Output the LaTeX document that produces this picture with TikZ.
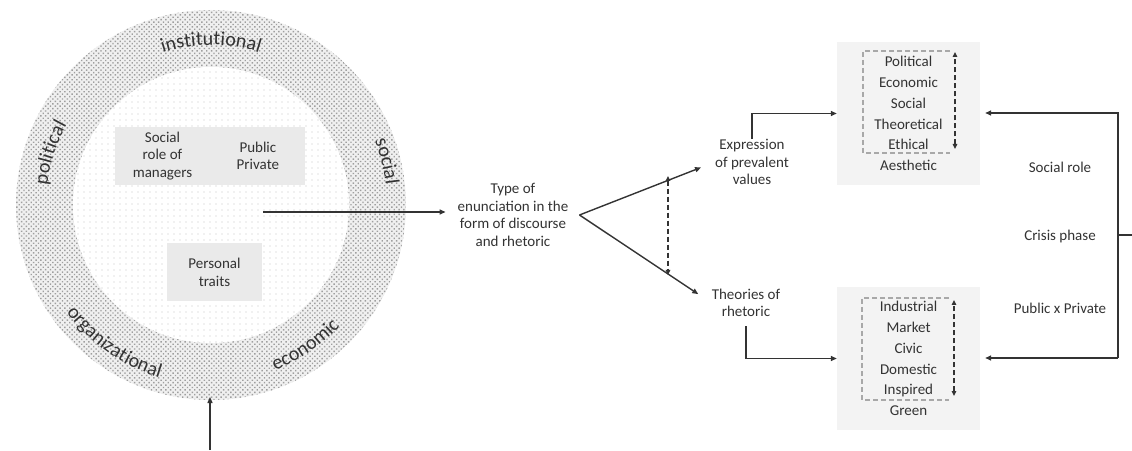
\documentclass[tikz,border=0pt]{standalone}
\usepackage{fontspec}
\setmainfont{Carlito}
\usetikzlibrary{positioning,arrows.meta,patterns.meta,decorations.text}
\definecolor{ink}{HTML}{333333}
\definecolor{shade}{HTML}{EAEAEA}
\definecolor{panel}{HTML}{F3F3F3}
\definecolor{dashgray}{HTML}{A8A8A8}
\newcommand{\ringfont}{\fontsize{20}{24}\selectfont\color{ink}}

\begin{document}
\begin{tikzpicture}[x=1pt,y=1pt,
  txt/.style={align=center, text=ink, inner sep=0pt, font=\fontsize{15}{17.5}\selectfont},
  graybox/.style={txt, fill=shade, minimum width=95pt, minimum height=58pt},
  listbox/.style={align=center, text=ink, fill=panel, inner sep=0pt, minimum width=143pt, minimum height=143pt, font=\fontsize{15}{20.8}\selectfont},
  line/.style={draw=ink, line width=1.4pt},
  arr/.style={line, -{Triangle[length=6pt,width=5pt]}},
  darr/.style={line, line width=1.6pt, dash pattern=on 5pt off 3pt, {Triangle[length=5pt,width=4.5pt]}-{Triangle[length=5pt,width=4.5pt]}},
  dashbox/.style={draw=dashgray, line width=1.2pt, dash pattern=on 5pt off 3pt}]
\useasboundingbox (0,0) rectangle (1132,450);

% rings
\coordinate (hub) at (211,245);
\fill[gray!12] (hub) circle[radius=195];
\fill[pattern={Dots[distance=3.4pt,radius=1pt,angle=45]}, pattern color=gray!75] (hub) circle[radius=195];
\fill[white] (hub) circle[radius=138];
\fill[pattern={Dots[distance=6pt,radius=0.7pt]}, pattern color=gray!45] (hub) circle[radius=138];
\path[decorate, decoration={text along path, text align=center, text={|\ringfont|institutional}}]
  ([shift={(130:160)}]hub) arc[start angle=130, end angle=50, radius=160];
\path[decorate, decoration={text along path, text align=center, text={|\ringfont|political}}]
  ([shift={(200:165)}]hub) arc[start angle=200, end angle=124, radius=165];
\path[decorate, decoration={text along path, text align=center, text={|\ringfont|social}}]
  ([shift={(50:176)}]hub) arc[start angle=50, end angle=-22, radius=176];
\path[decorate, decoration={text along path, text align=center, text={|\ringfont|organizational}}]
  ([shift={(195:180)}]hub) arc[start angle=195, end angle=275, radius=180];
\path[decorate, decoration={text along path, text align=center, text={|\ringfont|economic}}]
  ([shift={(268:177)}]hub) arc[start angle=268, end angle=340, radius=177];

% inner boxes
\node[graybox] (role) at (162.5,294) {Social\\role of\\managers};
\node[graybox, right=0pt of role] (sector) {Public\\Private};
\node[graybox] (traits) at (214.5,177.5) {Personal\\traits};

% middle
\node[txt] (type) at (513,235) {Type of\\enunciation in the\\form of discourse\\and rhetoric};
\coordinate (core) at (263,238);
\coordinate (below) at (210,0);
\draw[arr, shorten >=12pt] (core) -- (core -| type.west);
\draw[arr] (below) -- ++(0,53);

\node[txt] (expr) at (752,288) {Expression\\of prevalent\\values};
\node[txt] (theo) at (746,147) {Theories of\\rhetoric};
\coordinate (fork) at ([xshift=11pt]type.east);
\coordinate (hi) at (668,274);
\coordinate (lo) at (668,175);
\draw[arr, shorten >=15pt] (fork) -- (expr.west);
\draw[arr, shorten >=16pt] (fork) -- (theo.west);
\draw[darr] (hi) -- (lo);

% lists
\node[listbox] (vals) at (908.5,336.5) {Political\\Economic\\Social\\Theoretical\\Ethical\\Aesthetic};
\node[listbox] (types) at (908.5,91.5) {Industrial\\Market\\Civic\\Domestic\\Inspired\\Green};
\draw[dashbox] (950,399) -| (863,297) -- (950,297);
\draw[darr] (955,301) -- (955,398);
\draw[dashbox] (949,152) -| (862,50) -- (949,50);
\draw[darr] (954,54) -- (954,150);
\draw[arr] (expr.north) |- (vals.west);
\draw[arr] ([yshift=-9pt]theo.south) |- (types.west);

% right side
\node[txt] (srole) at (1060,283) {Social role};
\node[txt] (crisis) at (1060,213) {Crisis phase};
\node[txt] (pubx) at (1060,142) {Public x Private};
\coordinate (rtop) at (1118,337);
\coordinate (rbot) at (1118,92);
\coordinate (redge) at (1132,215);
\draw[line] (redge) -- (redge -| rtop);
\draw[arr, shorten >=5pt] (rbot) -- (rtop) -- (rtop -| vals.east);
\draw[arr, shorten >=5pt] (rbot) -- (rbot -| types.east);
\end{tikzpicture}
\end{document}
